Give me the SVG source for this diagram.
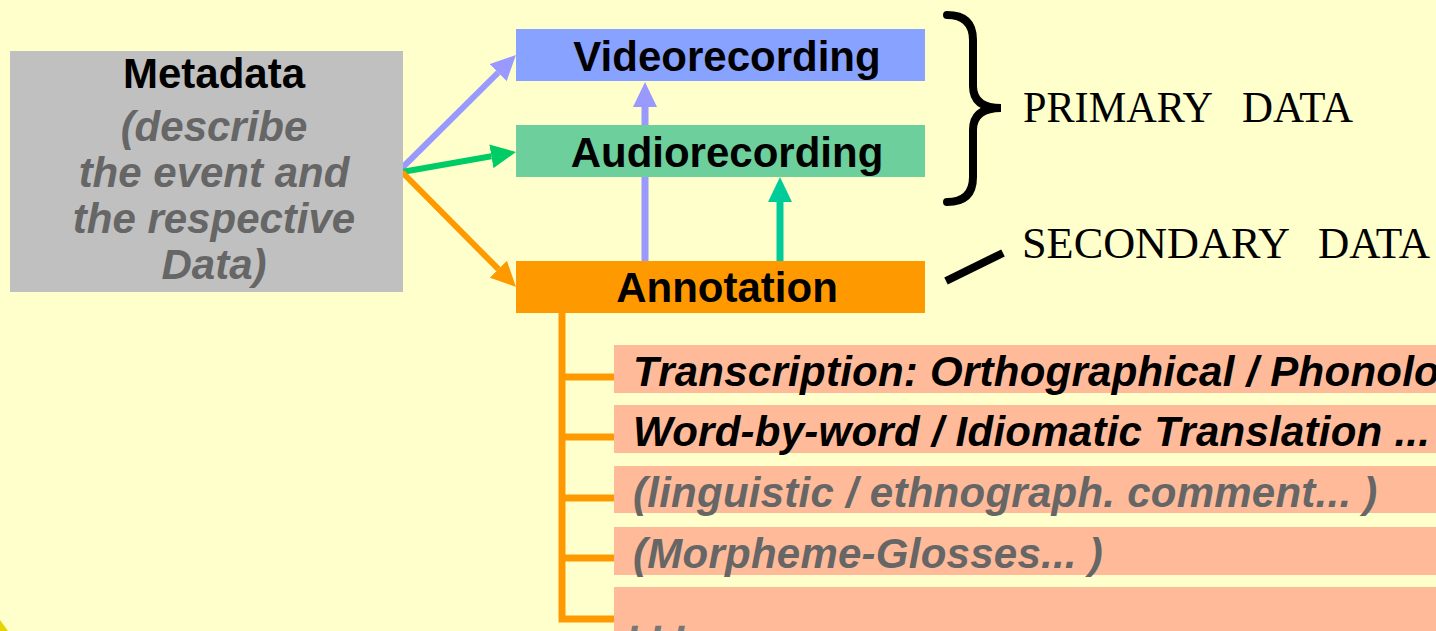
<svg xmlns="http://www.w3.org/2000/svg" width="1436" height="631" viewBox="0 0 1436 631">
<style>
.lbl{font-family:"Liberation Sans",Arial,sans-serif;font-weight:bold;font-size:42px;fill:#000}
.it{font-family:"Liberation Sans",Arial,sans-serif;font-weight:bold;font-style:italic;font-size:42px}
.rt{letter-spacing:0.25px}
.blk{fill:#000}
.gry{fill:#666666}
.cap{font-family:"Liberation Serif","Times New Roman",serif;font-size:44px;fill:#000}
.row{fill:#ffbb99}
.tree{stroke:#ff9900;stroke-width:7;fill:none}
</style>
<defs>
<marker id="hLav" markerUnits="userSpaceOnUse" markerWidth="26" markerHeight="24" refX="0" refY="12" orient="auto" viewBox="0 0 26 24"><path d="M0,0 L25,12 L0,24 z" fill="#9999ff"/></marker>
<marker id="hGrn" markerUnits="userSpaceOnUse" markerWidth="26" markerHeight="24" refX="0" refY="12" orient="auto" viewBox="0 0 26 24"><path d="M0,0 L25,12 L0,24 z" fill="#00cc66"/></marker>
<marker id="hOrg" markerUnits="userSpaceOnUse" markerWidth="26" markerHeight="24" refX="0" refY="12" orient="auto" viewBox="0 0 26 24"><path d="M0,0 L25,12 L0,24 z" fill="#ff9900"/></marker>
<marker id="hTeal" markerUnits="userSpaceOnUse" markerWidth="26" markerHeight="24" refX="0" refY="12" orient="auto" viewBox="0 0 26 24"><path d="M0,0 L25,12 L0,24 z" fill="#00cc99"/></marker>
</defs>
<rect x="0" y="0" width="1436" height="631" fill="#ffffcc"/>
<path d="M0,620 L8,631 L0,631 z" fill="#e6d400"/>

<g id="connectors">
<line x1="402" y1="168" x2="498.2" y2="72.6" stroke="#9999ff" stroke-width="6" marker-end="url(#hLav)"/>
<line x1="402" y1="172" x2="491.4" y2="156.3" stroke="#00cc66" stroke-width="6" marker-end="url(#hGrn)"/>
<line x1="402" y1="172" x2="498.4" y2="269.2" stroke="#ff9900" stroke-width="6" marker-end="url(#hOrg)"/>
<line x1="645" y1="262" x2="645" y2="107" stroke="#9999ff" stroke-width="7" marker-end="url(#hLav)"/>
<line x1="780" y1="263" x2="780" y2="202" stroke="#00cc99" stroke-width="7" marker-end="url(#hTeal)"/>
<path class="tree" d="M562,313 L562,619 L614,619 M562,377 L614,377 M562,437 L614,437 M562,498 L614,498 M562,558 L614,558"/>
</g>

<g id="metadata">
<rect x="10" y="51" width="393" height="241" fill="#c0c0c0"/>
<text class="lbl" x="214" y="88" text-anchor="middle">Metadata</text>
<text class="it gry" text-anchor="middle"><tspan x="214" y="141">(describe</tspan><tspan x="214" y="187">the event and</tspan><tspan x="214" y="233">the respective</tspan><tspan x="214" y="279">Data)</tspan></text>
</g>

<g id="videorecording">
<rect x="516" y="29" width="409" height="52" fill="#88a2ff"/>
<text class="lbl" x="727" y="71" text-anchor="middle">Videorecording</text>
</g>

<g id="audiorecording">
<rect x="516" y="125" width="409" height="52" fill="#6ccf9c"/>
<text class="lbl" x="727" y="167" text-anchor="middle">Audiorecording</text>
</g>

<g id="annotation">
<rect x="516" y="261" width="409" height="52" fill="#ff9900"/>
<text class="lbl" x="727" y="302" text-anchor="middle">Annotation</text>
</g>

<g id="primary">
<path d="M947,15 Q973,15 973,40 L973,86 Q973,108 1001,108 Q973,108 973,130 L973,177 Q973,202 947,202" fill="none" stroke="#000" stroke-width="8" stroke-linecap="round"/>
<text class="cap" x="1023" y="122" textLength="190" lengthAdjust="spacingAndGlyphs">PRIMARY</text>
<text class="cap" x="1242" y="122" textLength="111" lengthAdjust="spacingAndGlyphs">DATA</text>
</g>

<g id="secondary">
<line x1="946" y1="281" x2="1003" y2="253" stroke="#000" stroke-width="8"/>
<text class="cap" x="1022" y="258" textLength="268" lengthAdjust="spacingAndGlyphs">SECONDARY</text>
<text class="cap" x="1318" y="258" textLength="112" lengthAdjust="spacingAndGlyphs">DATA</text>
</g>

<g id="row1"><rect class="row" x="614" y="345" width="822" height="48"/><text class="it rt blk" x="633" y="386">Transcription: Orthographical / Phonological</text></g>
<g id="row2"><rect class="row" x="614" y="405" width="822" height="48"/><text class="it rt blk" x="633" y="446">Word-by-word / Idiomatic Translation ...</text></g>
<g id="row3"><rect class="row" x="614" y="466" width="822" height="47"/><text class="it rt gry" x="633" y="507">(linguistic / ethnograph. comment... )</text></g>
<g id="row4"><rect class="row" x="614" y="527" width="822" height="48"/><text class="it rt gry" x="633" y="568">(Morpheme-Glosses... )</text></g>
<g id="row5"><rect class="row" x="614" y="587" width="822" height="44"/><text class="it" x="630" y="632" fill="#777777">. . .</text></g>
</svg>
